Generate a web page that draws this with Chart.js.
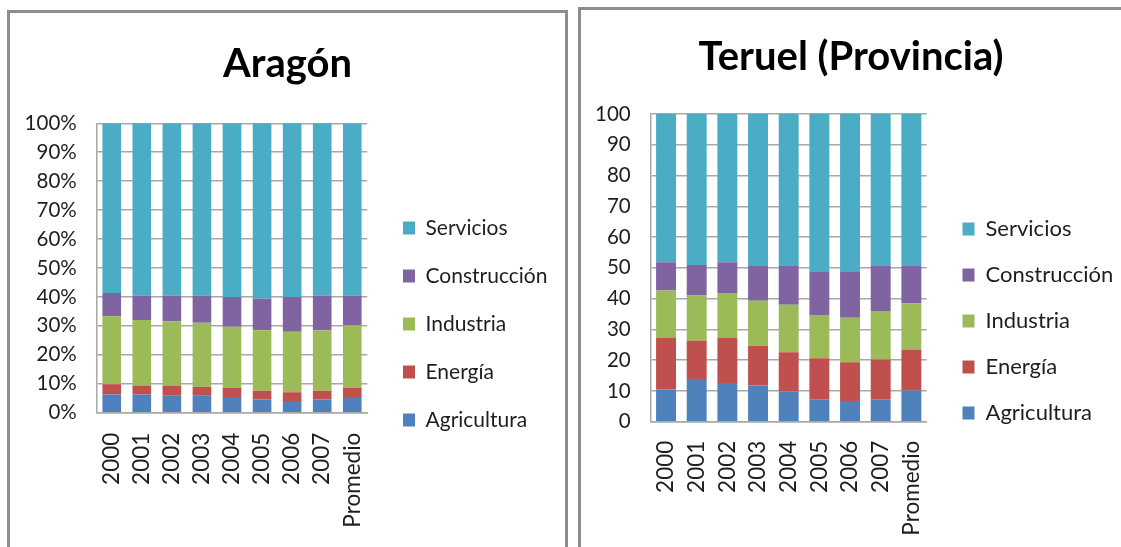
<!DOCTYPE html>
<html>
<head>
<meta charset="utf-8">
<script src="https://cdn.jsdelivr.net/npm/chart.js@4.4.0/dist/chart.umd.min.js"></script>
<style>
  html, body { margin: 0; padding: 0; background: #ffffff; overflow: hidden; }
  body { width: 1121px; height: 547px; position: relative; }
  .panel { position: absolute; border: 3px solid #8e8e8e; background: #fff; }
  #p1 { left: 7px; top: 10px; width: 555px; height: 560px; }
  #p2 { left: 578px; top: 7px; width: 560px; height: 560px; }
  canvas { display: block; }
</style>
</head>
<body>
<div class="panel" id="p1"><canvas id="c1" width="555" height="534"></canvas></div>
<div class="panel" id="p2"><canvas id="c2" width="540" height="537"></canvas></div>
<script>
// ---------- data ----------
const categories = ['2000', '2001', '2002', '2003', '2004', '2005', '2006', '2007', 'Promedio'];
const seriesNames = ['Agricultura', 'Energía', 'Industria', 'Construcción', 'Servicios'];
const seriesColors = ['#4F81BD', '#C0504D', '#9BBB59', '#8064A2', '#4BACC6'];

// Aragón (% shares)
const aragonAgricultura  = [6.3, 6.3, 5.9, 5.9, 5.4, 4.6, 4.0, 4.6, 5.4];
const aragonEnergia      = [3.5, 3.1, 3.5, 3.1, 3.1, 3.0, 3.1, 3.0, 3.1];
const aragonIndustria    = [23.5, 22.6, 22.2, 22.1, 21.2, 20.9, 20.9, 20.9, 21.7];
const aragonConstruccion = [8.1, 8.4, 8.8, 9.3, 10.3, 10.9, 12.0, 11.9, 10.2];
const aragonServicios    = [58.6, 59.6, 59.6, 59.6, 60.0, 60.6, 60.0, 59.6, 59.6];
const aragonTickLabels   = ['0%', '10%', '20%', '30%', '40%', '50%', '60%', '70%', '80%', '90%', '100%'];

// Teruel (Provincia)
const teruelAgricultura  = [10.5, 13.9, 12.6, 11.8, 9.8, 7.3, 6.7, 7.3, 10.1];
const teruelEnergia      = [16.7, 12.5, 14.6, 12.9, 12.8, 13.3, 12.6, 12.9, 13.4];
const teruelIndustria    = [15.4, 14.6, 14.6, 14.6, 15.4, 14.1, 14.5, 15.8, 15.0];
const teruelConstruccion = [9.2, 9.9, 10.0, 11.3, 12.6, 14.2, 15.1, 14.6, 12.1];
const teruelServicios    = [48.2, 49.1, 48.2, 49.4, 49.4, 51.1, 51.1, 49.4, 49.4];
const teruelTickLabels   = ['0', '10', '20', '30', '40', '50', '60', '70', '80', '90', '100'];

// ---------- helpers ----------
const FONT = 'Lato, "Open Sans", sans-serif';
const TEXT = '#1e1e1e';
const GRID = '#a8a8a8';

function legendTweak(cfg) {
  return {
    id: 'legendTweak',
    beforeLayout(chart) {
      const lg = chart.legend;
      if (lg && !lg._patched) {
        const orig = lg.fit.bind(lg);
        lg.fit = function () { orig(); this.width = cfg.width; };
        lg._patched = true;
      }
    },
    afterLayout(chart) {
      const lg = chart.legend;
      const lab = chart.options.plugins.legend.labels;
      const pad = lab.padding;
      const fs = lab.font.size;
      const ih = Math.max(fs, lab.boxHeight);
      const w = lg.width, h = lg.height;
      lg.left = cfg.boxX - pad; lg.right = lg.left + w;
      lg.top = cfg.firstMid - pad - ih / 2; lg.bottom = lg.top + h;
    }
  };
}

function makeChart(id, o) {
  const datasets = o.series.map((d, i) => ({
    label: seriesNames[i],
    data: d,
    backgroundColor: seriesColors[i],
    borderWidth: 0,
    barPercentage: o.barPct,
    categoryPercentage: 1.0
  }));
  return new Chart(document.getElementById(id), {
    type: 'bar',
    data: { labels: categories, datasets },
    options: {
      responsive: false,
      animation: false,
      devicePixelRatio: 1,
      layout: { padding: 0 },
      plugins: {
        tooltip: { enabled: false },
        title: {
          display: true, text: o.title, color: '#000',
          font: { family: FONT, size: o.titleSize, weight: 'bold', lineHeight: 1.2 },
          padding: { top: o.titleTop, bottom: o.titleBottom }
        },
        legend: {
          display: true, position: 'right', align: 'start', reverse: true,
          labels: {
            color: TEXT, boxWidth: 12, boxHeight: 13, padding: o.legendPad,
            font: { family: FONT, size: o.legendSize }
          }
        }
      },
      scales: {
        x: {
          stacked: true,
          grid: { display: false, drawTicks: false },
          border: { display: true, color: GRID, width: 1.5 },
          ticks: {
            color: TEXT, font: { family: FONT, size: o.xTickSize },
            minRotation: 90, maxRotation: 90, autoSkip: false, padding: o.xTickPad
          },
          afterFit(s) { s.height = o.xHeight; }
        },
        y: {
          stacked: true, min: 0, max: 100,
          grid: { color: GRID, lineWidth: 1.5, drawTicks: false },
          border: { display: true, color: GRID, width: 1.5 },
          ticks: {
            stepSize: 10, color: TEXT, font: { family: FONT, size: o.yTickSize },
            padding: o.yTickPad,
            callback: (v, i) => o.tickLabels[i]
          },
          afterFit(s) { s.width = o.yWidth; }
        }
      }
    },
    plugins: [legendTweak({ width: o.legendWidth, boxX: o.legendBoxX, firstMid: o.legendFirstMid })]
  });
}

makeChart('c1', {
  title: 'Aragón', titleSize: 40, titleTop: 27, titleBottom: 35.3,
  series: [aragonAgricultura, aragonEnergia, aragonIndustria, aragonConstruccion, aragonServicios],
  tickLabels: aragonTickLabels,
  barPct: 0.62, xTickSize: 22.5, xTickPad: 20, xHeight: 134.3,
  yTickSize: 20.5, yTickPad: 20, yWidth: 86.7,
  legendSize: 21, legendPad: 27, legendWidth: 197.7, legendBoxX: 393, legendFirstMid: 215
});

makeChart('c2', {
  title: 'Teruel (Provincia)', titleSize: 40, titleTop: 23, titleBottom: 33,
  series: [teruelAgricultura, teruelEnergia, teruelIndustria, teruelConstruccion, teruelServicios],
  tickLabels: teruelTickLabels,
  barPct: 0.65, xTickSize: 22.5, xTickPad: 19, xHeight: 125.3,
  yTickSize: 20.5, yTickPad: 20, yWidth: 69.7,
  legendSize: 22, legendPad: 24, legendWidth: 194.3, legendBoxX: 381.5, legendFirstMid: 219
});
</script>
</body>
</html>
